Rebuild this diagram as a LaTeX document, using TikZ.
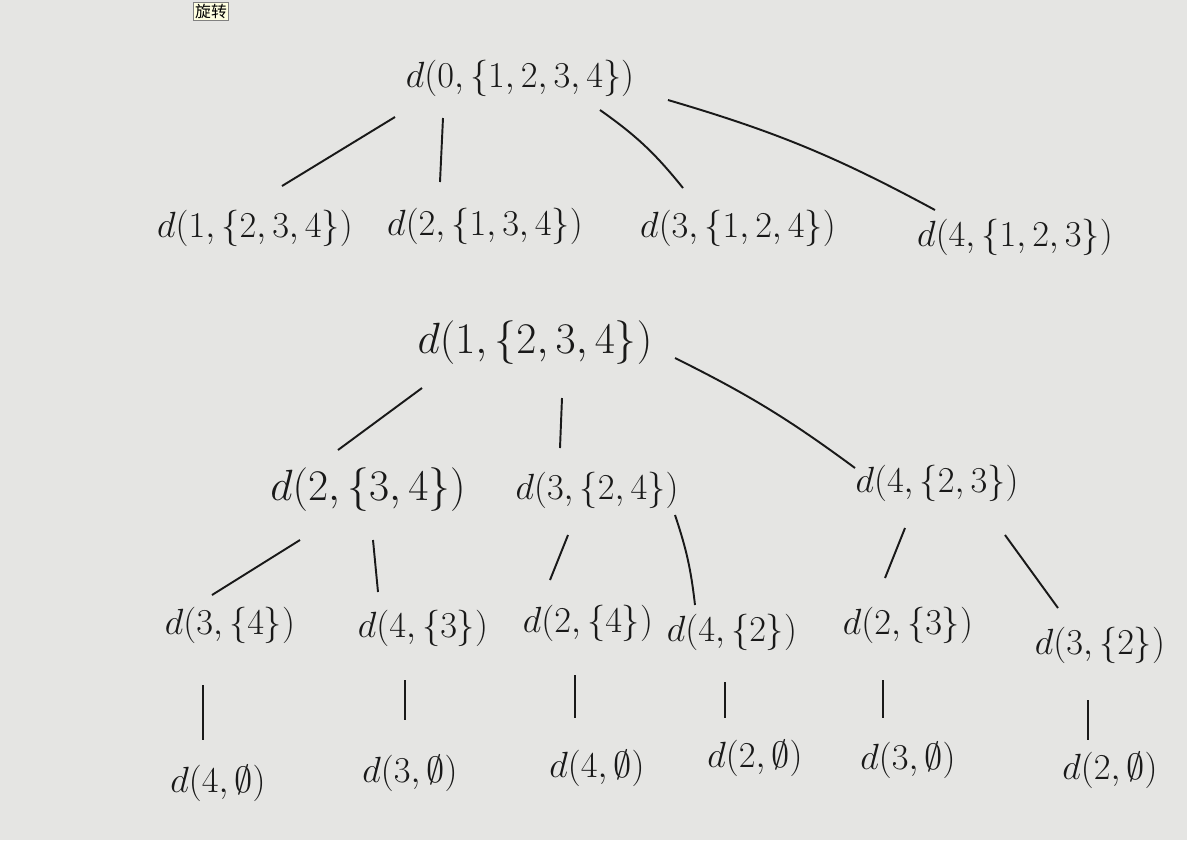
\documentclass[tikz,border=0pt]{standalone}
\usepackage{fontspec}
\newfontfamily\cjkfont{Noto Sans CJK SC}
\usepackage{tikz}
\usetikzlibrary{positioning}
\definecolor{paper}{rgb}{0.90, 0.90, 0.89}
\definecolor{ink}{rgb}{0.10, 0.10, 0.10}
\definecolor{btnfill}{rgb}{1.0, 1.0, 0.88}

\begin{document}
\begin{tikzpicture}[x=0.02cm, y=-0.02cm,
		state/.style={inner sep=1pt, text=ink, font=\fontsize{21}{25}\selectfont},
		big/.style={state, font=\fontsize{23}{27}\selectfont},
		leaf/.style={state, font=\fontsize{22}{26}\selectfont},
		branch/.style={draw=ink, line width=1.1pt},
		btn/.style={draw=gray, fill=btnfill, inner sep=1pt, font=\cjkfont\fontsize{9}{10}\selectfont}
	]
	\fill[paper] (0,0) rectangle (1187,840);
	\useasboundingbox (0,0) rectangle (1187,840);
	\node[btn] (rot) at (211,11) {旋转};
	% first tree
	\node[state] (r0) at (520,78) {$d(0,\{1,2,3,4\})$};
	\node[state] (a1) at (255,228) {$d(1,\{2,3,4\})$};
	\node[state] (a2) at (485,226) {$d(2,\{1,3,4\})$};
	\node[state] (a3) at (738,228) {$d(3,\{1,2,4\})$};
	\node[state] (a4) at (1015,237) {$d(4,\{1,2,3\})$};
	\draw[branch] ([shift={(-125,39)}]r0.center) -- ([shift={(27,-42)}]a1.center);
	\draw[branch] ([shift={(-77,40)}]r0.center) -- ([shift={(-45,-44)}]a2.center);
	\draw[branch] ([shift={(80,32)}]r0.center) to[bend left=8] ([shift={(-55,-40)}]a3.center);
	\draw[branch] ([shift={(148,22)}]r0.center) to[bend left=6] ([shift={(-80,-27)}]a4.center);
	% second tree
	\node[big] (r1) at (535,343) {$d(1,\{2,3,4\})$};
	\node[big] (b2) at (368,490) {$d(2,\{3,4\})$};
	\node[state] (b3) at (597,490) {$d(3,\{2,4\})$};
	\node[state] (b4) at (937,483) {$d(4,\{2,3\})$};
	\draw[branch] ([shift={(-113,45)}]r1.center) -- ([shift={(-30,-40)}]b2.center);
	\draw[branch] ([shift={(27,55)}]r1.center) -- ([shift={(-37,-42)}]b3.center);
	\draw[branch] ([shift={(140,15)}]r1.center) to[bend left=5] ([shift={(-82,-15)}]b4.center);
	\node[state] (c1) at (230,625) {$d(3,\{4\})$};
	\node[state] (c2) at (423,628) {$d(4,\{3\})$};
	\node[state] (c3) at (588,623) {$d(2,\{4\})$};
	\node[state] (c4) at (732,632) {$d(4,\{2\})$};
	\node[state] (c5) at (908,625) {$d(2,\{3\})$};
	\node[state] (c6) at (1100,645) {$d(3,\{2\})$};
	\draw[branch] ([shift={(-68,50)}]b2.center) -- ([shift={(-18,-30)}]c1.center);
	\draw[branch] ([shift={(5,50)}]b2.center) -- ([shift={(-45,-36)}]c2.center);
	\draw[branch] ([shift={(-29,45)}]b3.center) -- ([shift={(-38,-43)}]c3.center);
	\draw[branch] ([shift={(78,25)}]b3.center) to[bend left=6] ([shift={(-37,-27)}]c4.center);
	\draw[branch] ([shift={(-32,45)}]b4.center) -- ([shift={(-23,-47)}]c5.center);
	\draw[branch] ([shift={(68,52)}]b4.center) -- ([shift={(-42,-37)}]c6.center);
	\node[leaf] (e1) at (218,783) {$d(4,\emptyset)$};
	\node[leaf] (e2) at (410,773) {$d(3,\emptyset)$};
	\node[leaf] (e3) at (597,768) {$d(4,\emptyset)$};
	\node[leaf] (e4) at (755,758) {$d(2,\emptyset)$};
	\node[leaf] (e5) at (908,760) {$d(3,\emptyset)$};
	\node[leaf] (e6) at (1110,770) {$d(2,\emptyset)$};
	\draw[branch] ([shift={(-27,60)}]c1.center) -- ([shift={(-15,-43)}]e1.center);
	\draw[branch] ([shift={(-18,52)}]c2.center) -- ([shift={(-5,-53)}]e2.center);
	\draw[branch] ([shift={(-13,52)}]c3.center) -- ([shift={(-22,-50)}]e3.center);
	\draw[branch] ([shift={(-7,50)}]c4.center) -- ([shift={(-30,-40)}]e4.center);
	\draw[branch] ([shift={(-25,55)}]c5.center) -- ([shift={(-25,-42)}]e5.center);
	\draw[branch] ([shift={(-12,55)}]c6.center) -- ([shift={(-22,-30)}]e6.center);
\end{tikzpicture}
\end{document}
